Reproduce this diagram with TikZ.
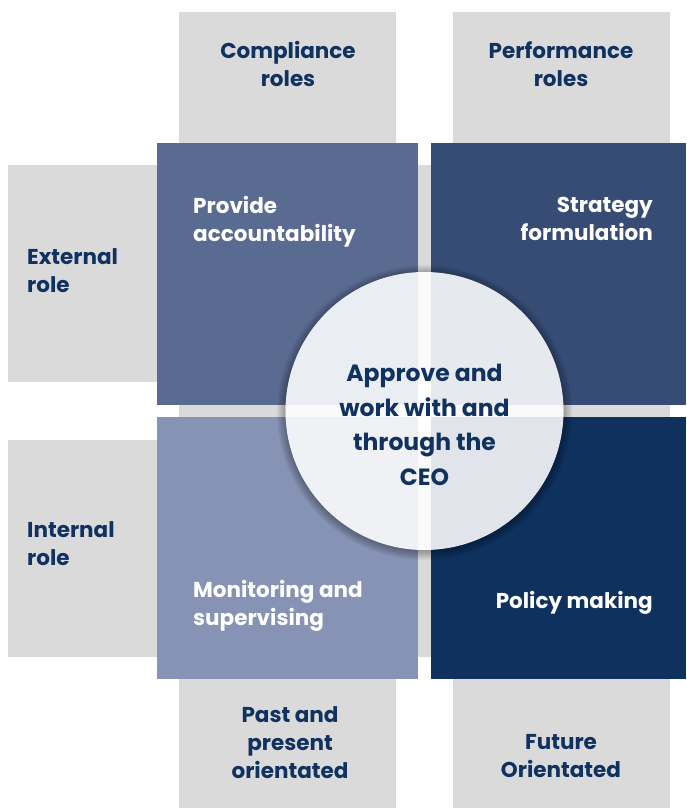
\documentclass[tikz,border=0pt]{standalone}
\usepackage{fontspec}
\setmainfont{Poppins}
\definecolor{panelgray}{RGB}{218,218,218}
\definecolor{inknavy}{RGB}{16,50,96}
\definecolor{quadA}{RGB}{90,107,145}
\definecolor{quadB}{RGB}{54,76,117}
\definecolor{quadC}{RGB}{134,147,180}
\definecolor{quadD}{RGB}{14,49,94}
\tikzset{
  label/.style={inner sep=0pt, text=inknavy, font=\bfseries\fontsize{21.5}{28}\selectfont},
  quadlabel/.style={inner sep=0pt, text=white, font=\bfseries\fontsize{21.5}{28}\selectfont},
  hub/.style={circle, inner sep=0pt, minimum size=278pt, fill=white, fill opacity=0.88},
  hubtext/.style={inner sep=0pt, text=inknavy, align=center,
    font=\bfseries\fontsize{23.5}{34.5}\selectfont},
  shadowring/.style={fill=black, fill opacity=0.045}
}
\begin{document}
\begin{tikzpicture}[x=1pt, y=-1pt]
  \useasboundingbox (0,0) rectangle (686,808);
  % grey bands behind the quadrants
  \fill[panelgray] (179,12) rectangle (396,808);
  \fill[panelgray] (453,12) rectangle (670,808);
  \fill[panelgray] (8,165) rectangle (670,382);
  \fill[panelgray] (8,440) rectangle (670,657);
  % the four quadrants
  \fill[quadA] (157,143) rectangle (418,405);
  \fill[quadB] (431,143) rectangle (686,405);
  \fill[quadC] (157,417) rectangle (418,679);
  \fill[quadD] (431,417) rectangle (686,679);
  % axis labels
  \node[label, align=center] (compl) at (288,64) {Compliance\\roles};
  \node[label, align=center] (perf) at (561,64) {Performance\\roles};
  \node[label, align=left, anchor=west] (ext) at (27,271) {External\\role};
  \node[label, align=left, anchor=west] (int) at (27,544) {Internal\\role};
  \node[label, align=center] (past) at (290,743) {Past and\\present\\orientated};
  \node[label, align=center] (fut) at (561,756) {Future\\Orientated};
  % quadrant labels
  \node[quadlabel, align=left, anchor=west] (acc) at (193,222) {Provide\\accountability};
  \node[quadlabel, align=right, anchor=east] (strat) at (653,219) {Strategy\\formulation};
  \node[quadlabel, align=left, anchor=west] (mon) at (193,606) {Monitoring and\\supervising};
  \node[quadlabel, align=right, anchor=east] (pol) at (653,603) {Policy making};
  % soft shadow kept outside the translucent disc
  \begin{scope}[even odd rule]
    \clip (0,0) rectangle (686,808) (424.5,411) circle (139pt);
    \foreach \r in {139,140.2,...,147.5}
      \fill[shadowring] (424.5,412.5) circle (\r pt);
  \end{scope}
  % central hub
  \node[hub] (ceo) at (424.5,411) {};
  \node[hubtext] (ceotext) at (424.5,425) {Approve and\\work with and\\through the\\CEO};
\end{tikzpicture}
\end{document}
